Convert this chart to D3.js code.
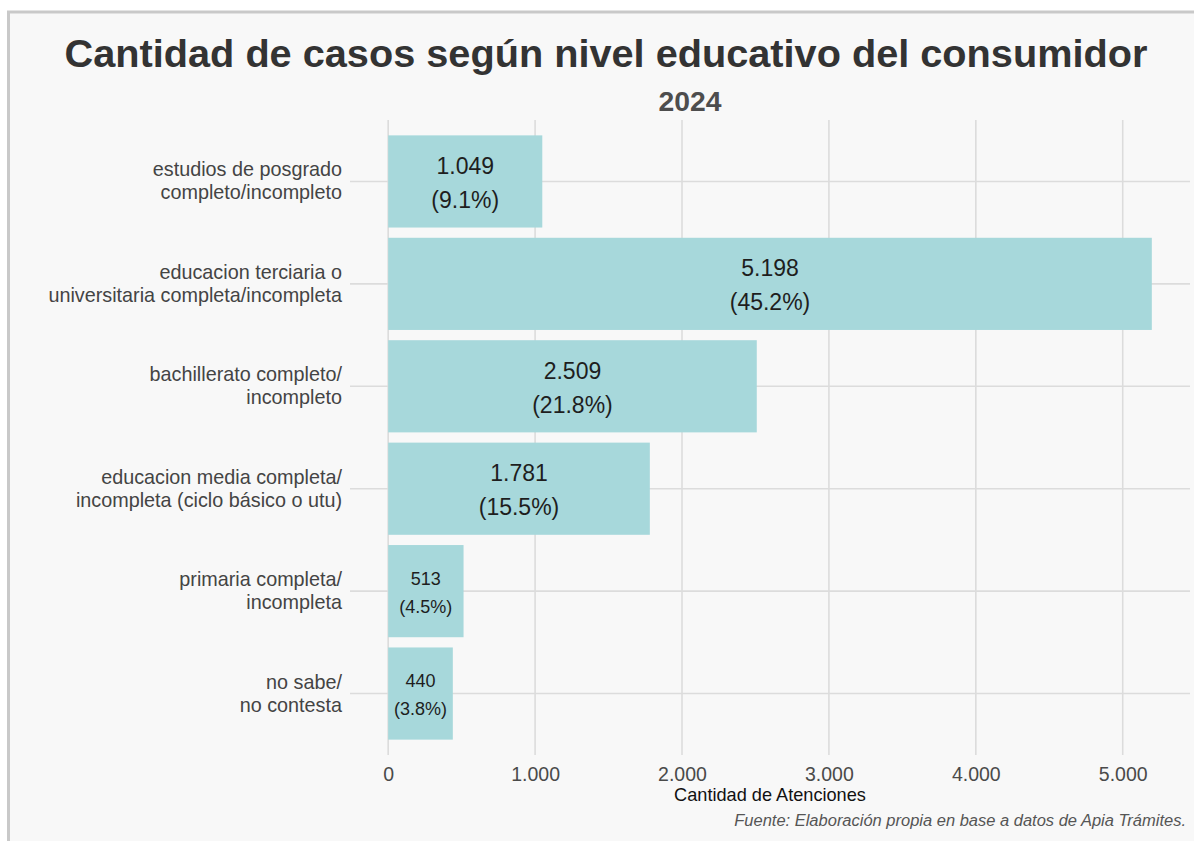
<!DOCTYPE html>
<html>
<head>
<meta charset="utf-8">
<script src="https://cdn.jsdelivr.net/npm/d3@7"></script>
<style>
  body { margin: 0; background: #fff; }
  text { font-family: "Liberation Sans", Arial, sans-serif; }
</style>
</head>
<body>
<svg id="chart" width="1194" height="841"></svg>
<script>
// data
var categories = [
  "estudios de posgrado|completo/incompleto",
  "educacion terciaria o|universitaria completa/incompleta",
  "bachillerato completo/|incompleto",
  "educacion media completa/|incompleta (ciclo básico o utu)",
  "primaria completa/|incompleta",
  "no sabe/|no contesta"
];
var casos = [1049, 5198, 2509, 1781, 513, 440];
var porcentajes = [9.1, 45.2, 21.8, 15.5, 4.5, 3.8];
var xTicks = [0, 1000, 2000, 3000, 4000, 5000];

var titulo = "Cantidad de casos según nivel educativo del consumidor";
var subtitulo = "2024";
var ejeX = "Cantidad de Atenciones";
var fuente = "Fuente: Elaboración propia en base a datos de Apia Trámites.";

var svg = d3.select("#chart");

// fondo del panel
svg.append("rect")
    .attr("x", 8.5).attr("y", 12)
    .attr("width", 1200).attr("height", 840)
    .attr("fill", "#f8f8f8")
    .attr("stroke", "#c9c9c9")
    .attr("stroke-width", 3);

var pLeft = 350, pRight = 1190, pTop = 120, pBottom = 755;

var fmt = function(v) { return d3.format(",")(v).replace(/,/g, "."); };

// fit a text to a width measured on the reference
function fitWidth(sel, size, target) {
    sel.attr("font-size", size);
    var w = sel.node().getComputedTextLength();
    sel.attr("font-size", size * target / w);
}

var x = d3.scaleLinear()
    .domain([-0.05 * d3.max(casos), 1.05 * d3.max(casos)])
    .range([pLeft, pRight]);

var y = d3.scaleBand()
    .domain(categories)
    .range([pTop, pBottom])
    .paddingInner(0.1)
    .paddingOuter(0.15);

// grid
var grid = svg.append("g");
grid.selectAll(".gx").data(xTicks).enter().append("line")
    .attr("x1", function(d) { return x(d); })
    .attr("x2", function(d) { return x(d); })
    .attr("y1", pTop).attr("y2", pBottom)
    .attr("stroke", "#dcdcdc").attr("stroke-width", 1.6);
grid.selectAll(".gy").data(categories).enter().append("line")
    .attr("x1", pLeft).attr("x2", pRight)
    .attr("y1", function(d) { return y(d) + y.bandwidth() / 2; })
    .attr("y2", function(d) { return y(d) + y.bandwidth() / 2; })
    .attr("stroke", "#dcdcdc").attr("stroke-width", 1.6);

// bars
svg.selectAll(".bar").data(casos).enter().append("rect")
    .attr("x", x(0))
    .attr("y", function(d, i) { return y(categories[i]); })
    .attr("width", function(d) { return x(d) - x(0); })
    .attr("height", y.bandwidth())
    .attr("fill", "#a7d8db");

// bar labels
casos.forEach(function(d, i) {
    var cx = (x(0) + x(d)) / 2;
    var cy = y(categories[i]) + y.bandwidth() / 2;
    var small = d < 1000;
    var fs = small ? 18 : 23;
    var gap = small ? 14 : 17;
    var t = svg.append("text")
        .attr("text-anchor", "middle")
        .attr("font-size", fs)
        .attr("fill", "#1e1e1e");
    t.append("tspan").attr("x", cx).attr("y", cy + 1 - gap + fs * 0.36).text(fmt(d));
    t.append("tspan").attr("x", cx).attr("y", cy + 1 + gap + fs * 0.36).text("(" + porcentajes[i] + "%)");
});

// y axis labels
categories.forEach(function(c) {
    var cy = y(c) + y.bandwidth() / 2;
    var lines = c.split("|");
    var t = svg.append("text")
        .attr("text-anchor", "end")
        .attr("font-size", 19.8)
        .attr("fill", "#444");
    t.append("tspan").attr("x", 342).attr("y", cy - 5).text(lines[0]);
    t.append("tspan").attr("x", 342).attr("y", cy + 18).text(lines[1]);
});

// x axis
var xAxis = svg.append("g")
    .attr("transform", "translate(0," + pBottom + ")")
    .call(d3.axisBottom(x).tickValues(xTicks).tickFormat(fmt).tickSize(0).tickPadding(12));
xAxis.select(".domain").remove();
xAxis.selectAll("text")
    .attr("font-family", "Liberation Sans, Arial, sans-serif")
    .attr("font-size", 19.5)
    .attr("fill", "#4a4a4a");

fitWidth(svg.append("text")
    .attr("x", (pLeft + pRight) / 2).attr("y", 801)
    .attr("text-anchor", "middle")
    .attr("fill", "#111")
    .text(ejeX), 15, 192);

fitWidth(svg.append("text")
    .attr("x", 1186).attr("y", 826)
    .attr("text-anchor", "end")
    .attr("font-style", "italic")
    .attr("fill", "#555")
    .text(fuente), 14, 452);

// titles
fitWidth(svg.append("text")
    .attr("x", 606).attr("y", 67)
    .attr("text-anchor", "middle")
    .attr("font-weight", "bold")
    .attr("fill", "#333")
    .text(titulo), 36, 1083);

fitWidth(svg.append("text")
    .attr("x", 690).attr("y", 111)
    .attr("text-anchor", "middle")
    .attr("font-weight", "bold")
    .attr("fill", "#4d4d4d")
    .text(subtitulo), 25, 63);
</script>
</body>
</html>
